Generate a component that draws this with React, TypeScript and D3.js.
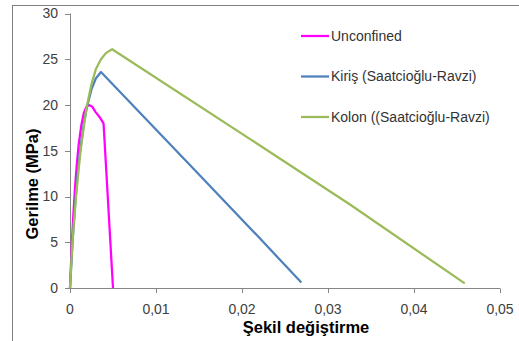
import React from 'react';
import * as d3 from 'd3';

// strain (x) / stress in MPa (y)
const unconfinedX = [0, 0.0002, 0.0004, 0.0006, 0.0008, 0.001, 0.0013, 0.0016, 0.0019, 0.0022, 0.0026, 0.003, 0.0035, 0.0039, 0.005];
const unconfinedY = [0, 4.6, 8.2, 11.2, 13.6, 15.6, 17.7, 19.1, 19.8, 20.0, 19.8, 19.2, 18.6, 18.0, 0];

const kirisX = [0, 0.0003, 0.0006, 0.0009, 0.0012, 0.0016, 0.002, 0.0025, 0.003, 0.0036, 0.0145, 0.0221, 0.0269];
const kirisY = [0, 5.0, 9.2, 12.6, 15.2, 17.9, 19.9, 21.7, 22.9, 23.6, 12.9, 5.4, 0.6];

const kolonX = [0, 0.0003, 0.0007, 0.0012, 0.0019, 0.0025, 0.003, 0.0036, 0.0042, 0.0049, 0.0209, 0.0326, 0.0459];
const kolonY = [0, 5.2, 10.0, 14.8, 19.6, 22.3, 23.9, 25.0, 25.7, 26.1, 16.3, 9.1, 0.5];

const seriesNames = ['Unconfined', 'Kiriş (Saatcioğlu-Ravzi)', 'Kolon ((Saatcioğlu-Ravzi)'];
const seriesColors = ['#ff00ff', '#4f81bd', '#9bbb59'];

const xTicks = [0, 0.01, 0.02, 0.03, 0.04, 0.05];
const yTicks = [0, 5, 10, 15, 20, 25, 30];

const font = '"Liberation Sans", Arial, sans-serif';

export default function App() {
  const x = d3.scaleLinear().domain([0, 0.05]).range([70, 500]);
  const y = d3.scaleLinear().domain([0, 30]).range([288, 13.5]);

  const series = [
    { xs: unconfinedX, ys: unconfinedY },
    { xs: kirisX, ys: kirisY },
    { xs: kolonX, ys: kolonY },
  ];

  const line = d3
    .line<[number, number]>()
    .x((d) => x(d[0]))
    .y((d) => y(d[1]));

  const fmt = (v: number) => (v === 0 ? '0' : d3.format('.2f')(v).replace('.', ','));
  const axisColor = '#868686';

  return (
    <svg width={519} height={341} style={{ position: 'absolute', left: 0, top: 0 }} fontFamily={font}>
      <rect x={0} y={0} width={519} height={341} fill="#fff" />
      <rect x={12.5} y={5.5} width={520} height={350} fill="none" stroke="#7f7f7f" strokeWidth={1} />

      {/* y axis */}
      <line x1={70.5} x2={70.5} y1={y(30)} y2={y(0)} stroke={axisColor} />
      {yTicks.map((t) => (
        <g key={t}>
          <line x1={65} x2={70.5} y1={Math.round(y(t)) + 0.5} y2={Math.round(y(t)) + 0.5} stroke={axisColor} />
          <text x={58} y={y(t)} dy="0.35em" textAnchor="end" fontSize={14} fill="#404040">
            {t}
          </text>
        </g>
      ))}

      {/* x axis */}
      <line x1={x(0)} x2={x(0.05)} y1={288.5} y2={288.5} stroke={axisColor} />
      {xTicks.map((t) => (
        <g key={t}>
          <line x1={Math.round(x(t)) + 0.5} x2={Math.round(x(t)) + 0.5} y1={288.5} y2={293} stroke={axisColor} />
          <text x={x(t)} y={314} textAnchor="middle" fontSize={14} fill="#404040">
            {fmt(t)}
          </text>
        </g>
      ))}

      {/* series */}
      {series.map((s, i) => (
        <path
          key={i}
          d={line(s.xs.map((v, j) => [v, s.ys[j]] as [number, number])) || ''}
          fill="none"
          stroke={seriesColors[i]}
          strokeWidth={2.25}
          strokeLinejoin="round"
        />
      ))}

      {/* legend */}
      {seriesNames.map((n, i) => (
        <g key={n} transform={`translate(301, ${36 + i * 40.5})`}>
          <line x1={0} x2={28} y1={0} y2={0} stroke={seriesColors[i]} strokeWidth={2.25} />
          <text x={30} y={0} dy="0.35em" fontSize={14} fill="#333">
            {n}
          </text>
        </g>
      ))}

      {/* axis titles */}
      <text
        transform="translate(38, 184) rotate(-90)"
        textAnchor="middle"
        fontSize={16.5}
        fontWeight="bold"
        fill="#000"
      >
        Gerilme (MPa)
      </text>
      <text x={306} y={333} textAnchor="middle" fontSize={16.5} fontWeight="bold" fill="#000">
        Şekil değiştirme
      </text>
    </svg>
  );
}
